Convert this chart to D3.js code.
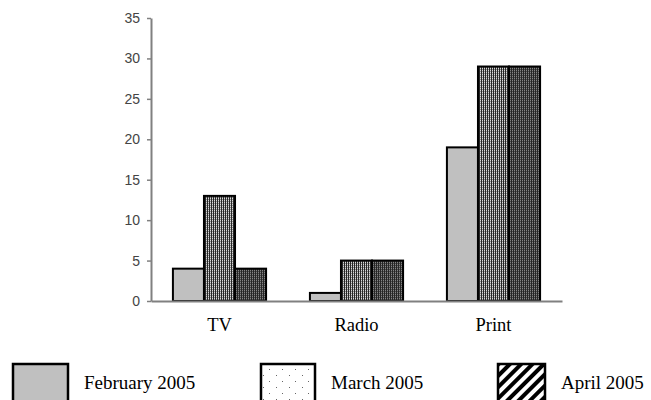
<!DOCTYPE html>
<html><head><meta charset="utf-8">
<script src="https://cdn.jsdelivr.net/npm/d3@7"></script>
<style>html,body{margin:0;padding:0;background:#fff;}svg{display:block;}</style>
</head><body>
<svg id="c" width="651" height="400"></svg>
<script>
const categories = ["TV", "Radio", "Print"];
const seriesNames = ["February 2005", "March 2005", "April 2005"];
const feb2005 = [4, 1, 19];
const mar2005 = [13, 5, 29];
const apr2005 = [4, 5, 29];
const yTicks = [0, 5, 10, 15, 20, 25, 30, 35];

const values = [feb2005, mar2005, apr2005];
const svg = d3.select("#c");
const defs = svg.append("defs");

// bar patterns
const pMar = defs.append("pattern").attr("id","barMar").attr("patternUnits","userSpaceOnUse").attr("width",2).attr("height",2);
pMar.append("rect").attr("width",2).attr("height",2).attr("fill","#d8d8d8");
pMar.append("rect").attr("x",0).attr("y",0).attr("width",1).attr("height",2).attr("fill","#262626");
pMar.append("rect").attr("x",1).attr("y",1).attr("width",1).attr("height",1).attr("fill","#8c8c8c");

const pApr = defs.append("pattern").attr("id","barApr").attr("patternUnits","userSpaceOnUse").attr("width",2).attr("height",2);
pApr.append("rect").attr("width",2).attr("height",2).attr("fill","#858585");
pApr.append("rect").attr("x",0).attr("y",0).attr("width",1).attr("height",2).attr("fill","#262626");
pApr.append("rect").attr("x",1).attr("y",1).attr("width",1).attr("height",1).attr("fill","#4a4a4a");

// legend patterns
const pDot = defs.append("pattern").attr("id","legDot").attr("patternUnits","userSpaceOnUse").attr("width",13).attr("height",12);
pDot.append("rect").attr("width",13).attr("height",12).attr("fill","#fff");
pDot.append("rect").attr("x",3).attr("y",3).attr("width",1).attr("height",1).attr("fill","#666");
pDot.append("rect").attr("x",9).attr("y",9).attr("width",1).attr("height",1).attr("fill","#666");

const pDiag = defs.append("pattern").attr("id","legDiag").attr("patternUnits","userSpaceOnUse").attr("width",8).attr("height",8).attr("patternTransform","rotate(45)");
pDiag.append("rect").attr("width",8).attr("height",8).attr("fill","#fff");
pDiag.append("rect").attr("x",0).attr("y",0).attr("width",4).attr("height",8).attr("fill","#000");

const barFills = ["#c0c0c0", "url(#barMar)", "url(#barApr)"];
const legendFills = ["#c0c0c0", "url(#legDot)", "url(#legDiag)"];

const x0 = d3.scaleBand().domain(categories).range([151, 562]).paddingInner(0).paddingOuter(0);
const bw = x0.bandwidth();
const gap = bw * 0.32;
const x1 = d3.scaleBand().domain(d3.range(seriesNames.length)).range([gap/2, bw - gap/2]);
const y = d3.scaleLinear().domain([0, 35]).range([301, 18]);

// bars
const groups = svg.append("g").selectAll("g").data(categories).join("g")
  .attr("transform", d => `translate(${x0(d)},0)`);
groups.selectAll("rect").data((c, ci) => values.map((s, si) => ({si, v: s[ci]}))).join("rect")
  .attr("x", d => x1(d.si))
  .attr("y", d => y(d.v))
  .attr("width", x1.bandwidth())
  .attr("height", d => y(0) - y(d.v))
  .attr("fill", d => barFills[d.si])
  .attr("stroke", "#000")
  .attr("stroke-width", 2);

// y axis
const yAxis = svg.append("g").attr("transform", "translate(151,0)")
  .call(d3.axisLeft(y).tickValues(yTicks).tickSize(4).tickPadding(7).tickSizeOuter(0));
yAxis.select(".domain").attr("stroke", "#808080").attr("stroke-width", 2);
yAxis.selectAll(".tick line").attr("stroke", "#808080").attr("stroke-width", 1.5);
yAxis.selectAll(".tick text").attr("font-family", "Liberation Sans, Arial, sans-serif")
  .attr("font-size", 14).attr("fill", "#444");

// x axis
const xAxis = svg.append("g").attr("transform", "translate(0,301)")
  .call(d3.axisBottom(x0).tickSize(0).tickPadding(17).tickSizeOuter(0));
xAxis.select(".domain").attr("stroke", "#808080").attr("stroke-width", 2);
xAxis.selectAll(".tick text").attr("font-family", "Liberation Serif, Times New Roman, serif")
  .attr("font-size", 18.5).attr("fill", "#000");

// legend
const legX = [13, 261, 498];
const legW = [55, 54, 47];
const leg = svg.append("g").selectAll("g").data(seriesNames).join("g");
leg.append("rect")
  .attr("x", (d,i) => legX[i]).attr("y", 364)
  .attr("width", (d,i) => legW[i]).attr("height", 40)
  .attr("fill", (d,i) => legendFills[i])
  .attr("stroke", "#000").attr("stroke-width", 2.5);
leg.append("text")
  .attr("x", (d,i) => legX[i] + legW[i] + 16).attr("y", 389)
  .attr("font-family", "Liberation Serif, Times New Roman, serif")
  .attr("font-size", 19).attr("fill", "#000")
  .text(d => d);
</script>
</body></html>
